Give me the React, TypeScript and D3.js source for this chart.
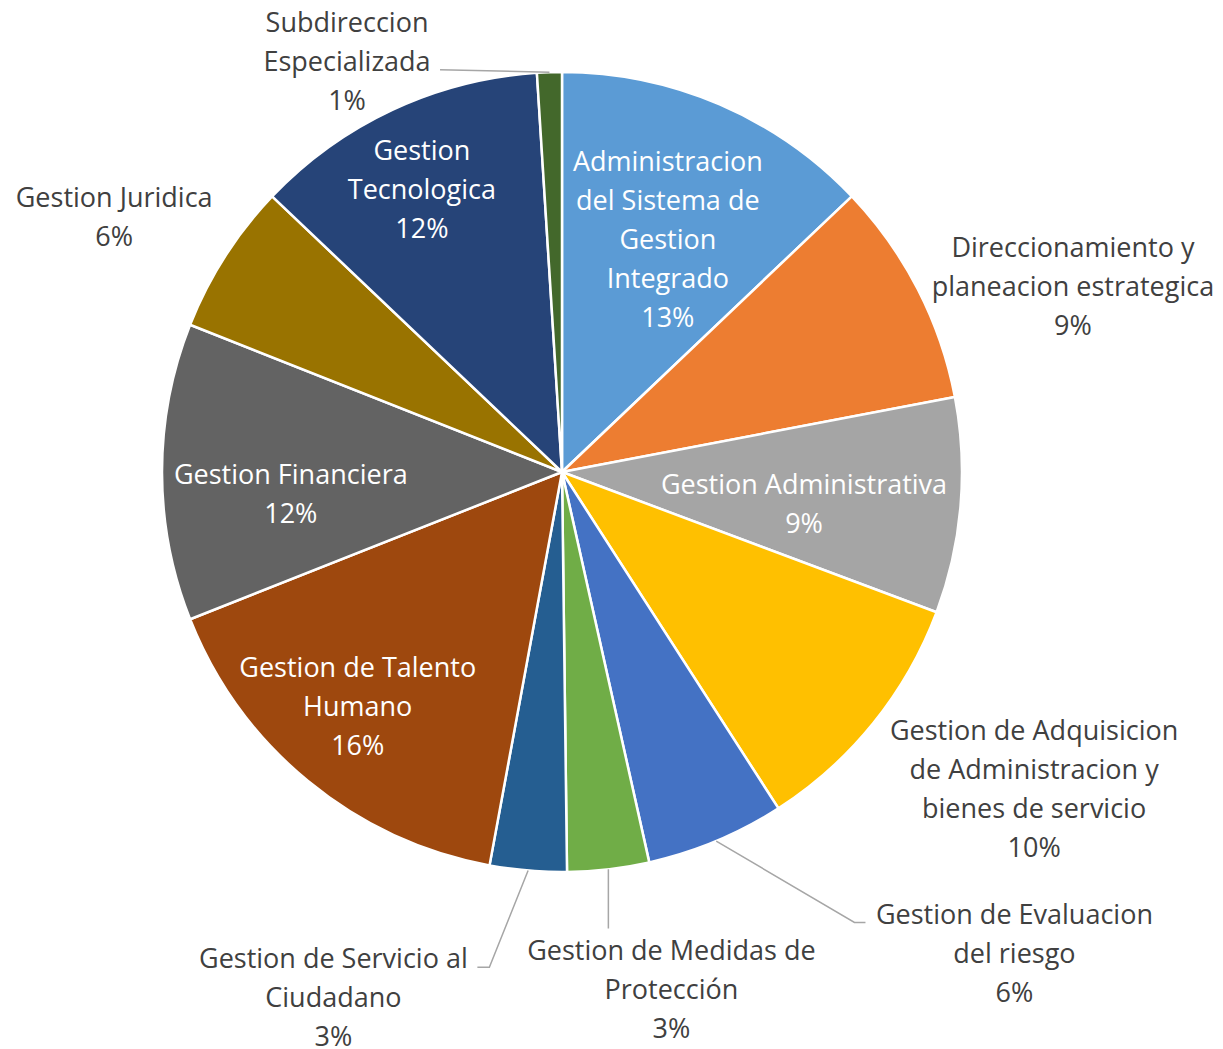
import * as d3 from 'd3';
import { useEffect, useRef } from 'react';

// slice names (\n marks where the label wraps)
const categories = [
  'Administracion\ndel Sistema de\nGestion\nIntegrado',
  'Direccionamiento y\nplaneacion estrategica',
  'Gestion Administrativa',
  'Gestion de Adquisicion\nde Administracion y\nbienes de servicio',
  'Gestion de Evaluacion\ndel riesgo',
  'Gestion de Medidas de\nProtección',
  'Gestion de Servicio al\nCiudadano',
  'Gestion de Talento\nHumano',
  'Gestion Financiera',
  'Gestion Juridica',
  'Gestion\nTecnologica',
  'Subdireccion\nEspecializada',
];

// share of each process
const shares = [12.9, 9.1, 8.7, 10.2, 5.6, 3.3, 3.1, 16.1, 12.0, 6.1, 11.9, 1.0];

const colors = [
  '#5B9BD5', '#ED7D31', '#A5A5A5', '#FFC000', '#4472C4', '#70AD47',
  '#255E91', '#9E480E', '#636363', '#997300', '#264478', '#43682B',
];

// label placement: radial distance (x radius), angle nudge (deg), inside?
const labelPos = [
  { r: 0.64, da: 1.2, inside: true },
  { r: 1.36, da: 7.1, inside: false },
  { r: 0.61, da: 2.4, inside: true },
  { r: 1.42, da: -5.1, inside: false },
  { r: 1.65, da: -20.6, inside: false },
  { r: 1.32, da: -5.3, inside: false },
  { r: 1.43, da: 18.7, inside: false },
  { r: 0.775, da: 1.8, inside: true },
  { r: 0.68, da: -4.4, inside: true },
  { r: 1.29, da: -2.8, inside: false },
  { r: 0.79, da: -1.3, inside: true },
  { r: 1.16, da: -25.8, inside: false },
];

// leader lines: kink offset from label centre, then short horizontal run
const leaders: Record<number, { dx: number; dy: number; hx: number }> = {
  4: { dx: -160, dy: -30, hx: 11 },
  5: { dx: -63, dy: -60, hx: 0 },
  6: { dx: 156, dy: -29, hx: -12 },
  11: { dx: 93, dy: 9, hx: 0 },
};

const App = () => {
  const ref = useRef<SVGSVGElement>(null);

  useEffect(() => {
    const width = 1223;
    const height = 1049;
    const cx = 562;
    const cy = 472;
    const radius = 400;
    const lineH = 39;
    const fontFamily = '"Open Sans", "Noto Sans", sans-serif';

    const svg = d3.select(ref.current);
    svg.selectAll('*').remove();
    svg.attr('width', width).attr('height', height).attr('viewBox', [0, 0, width, height]);

    const g = svg.append('g').attr('transform', `translate(${cx},${cy})`);

    const total = d3.sum(shares);
    const pie = d3.pie<number>().sort(null).value((d) => d);
    const arcs = pie(shares);
    const arc = d3.arc<d3.PieArcDatum<number>>().innerRadius(0).outerRadius(radius);

    g.selectAll('path.slice')
      .data(arcs)
      .join('path')
      .attr('class', 'slice')
      .attr('d', arc)
      .attr('fill', (_, i) => colors[i])
      .attr('stroke', '#fff')
      .attr('stroke-width', 2.5)
      .attr('stroke-linejoin', 'round');

    const fmt = (v: number) => `${Math.round((v / total) * 100)}%`;

    arcs.forEach((a, i) => {
      const mid = (a.startAngle + a.endAngle) / 2;
      const lp = labelPos[i];
      const [lx, ly] = d3.pointRadial(mid + (lp.da * Math.PI) / 180, radius * lp.r);

      const ld = leaders[i];
      if (ld) {
        const [sx, sy] = d3.pointRadial(mid, radius);
        const kx = lx + ld.dx;
        const ky = ly + ld.dy;
        const pts: [number, number][] = [[sx, sy], [kx, ky]];
        if (ld.hx) pts.push([kx + ld.hx, ky]);
        g.append('path')
          .attr('d', d3.line()(pts))
          .attr('fill', 'none')
          .attr('stroke', '#A6A6A6')
          .attr('stroke-width', 1.5);
      }

      const lines = [...categories[i].split('\n'), fmt(a.data)];
      const n = lines.length;
      const text = g.append('text')
        .attr('text-anchor', 'middle')
        .attr('font-family', fontFamily)
        .attr('font-size', 27)
        .attr('fill', lp.inside ? '#FFFFFF' : '#404040');
      lines.forEach((t, j) => {
        text.append('tspan')
          .attr('x', lx)
          .attr('y', ly + (j - (n - 1) / 2) * lineH)
          .attr('dominant-baseline', 'central')
          .text(t);
      });
    });
  }, []);

  return (
    <svg
      ref={ref}
      style={{ position: 'absolute', left: 0, top: 0, background: '#fff' }}
    />
  );
};

export default App;
